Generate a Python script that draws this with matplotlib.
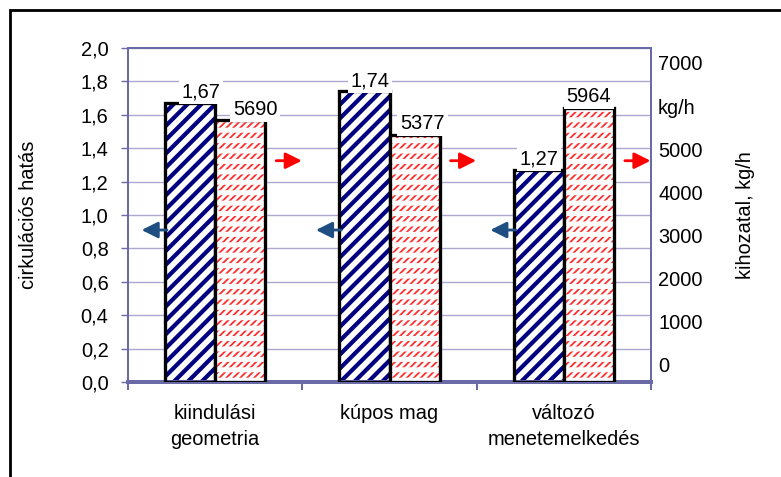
import matplotlib.pyplot as plt
import numpy as np
from matplotlib.patches import Rectangle

categories = ["kiindulási\ngeometria", "kúpos mag", "változó\nmenetemelkedés"]
circulation = [1.67, 1.74, 1.27]
throughput = [5690, 5377, 5964]
left_ticks = [0.0, 0.2, 0.4, 0.6, 0.8, 1.0, 1.2, 1.4, 1.6, 1.8, 2.0]
right_ticks = [0, 1000, 2000, 3000, 4000, 5000, 6000, 7000]
right_tick_labels = ["0", "1000", "2000", "3000", "4000", "5000", "kg/h", "7000"]

# render at 125 dpi so the hatch tiles come out at the right density;
# all sizes below are given in pixels and converted to points
DPI = 125
PX = 72 / DPI

plt.rcParams["font.family"] = ["Liberation Sans", "DejaVu Sans"]
plt.rcParams["font.size"] = 20 * PX

spine_col = "#6a6aa6"
grid_col = "#aca8d0"
navy = "#000080"
red = "#ff2e2e"

fig = plt.figure(figsize=(781 / DPI, 477 / DPI), dpi=DPI)
ax = fig.add_axes([0.1639, 0.1992, 0.6697, 0.7002])
ax2 = ax.twinx()
ax3 = ax.twinx()

x = np.arange(len(categories))
w = 0.287

# blue hatched bars (left axis)
with plt.rc_context({"hatch.linewidth": 4.2 * PX}):
    ax.bar(x - w / 2, circulation, w, facecolor="white", edgecolor=navy,
           hatch="///", linewidth=0, zorder=2)
ax.bar(x - w / 2, circulation, w, fill=False, edgecolor="black",
       linewidth=3.3 * PX, zorder=3)

# red dashed hatch bars (right axis): diagonal lines broken by white rows
with plt.rc_context({"hatch.linewidth": 1.8 * PX}):
    ax2.bar(x + w / 2, throughput, w, facecolor="white", edgecolor=red,
            hatch="//////", linewidth=0, zorder=2)
with plt.rc_context({"hatch.linewidth": 5.0 * PX}):
    ax2.bar(x + w / 2, throughput, w, facecolor="none", edgecolor="white",
            hatch="--", linewidth=0, zorder=2.5)
ax2.bar(x + w / 2, throughput, w, fill=False, edgecolor="black",
        linewidth=3.3 * PX, zorder=3)

# value labels
left_dx = [11, 5.5, 0]
right_dx = [15, 8, 0]
box = dict(facecolor="white", edgecolor="none", pad=2.8 * PX)
for xi, v, dx in zip(x, circulation, left_dx):
    ax.annotate(f"{v:.2f}".replace(".", ","), xy=(xi - w / 2, v),
                xytext=(dx * PX, 1.4 * PX), textcoords="offset points",
                ha="center", va="bottom", bbox=box, zorder=5)
for xi, v, dx in zip(x, throughput, right_dx):
    ax2.annotate(f"{v}", xy=(xi + w / 2, v), xytext=(dx * PX, 1.4 * PX),
                 textcoords="offset points", ha="center", va="bottom",
                 bbox=box, zorder=5)

# arrows pointing to the axis each series belongs to
arrow_style = dict(arrowstyle="-|>", lw=2.8 * PX, mutation_scale=34 * PX,
                   shrinkA=0, shrinkB=0)
for xi in x:
    ax.annotate("", xy=(xi - w - 0.135, 0.91), xytext=(xi - w + 0.01, 0.91),
                arrowprops=dict(color="#1f4f82", **arrow_style), zorder=4)
    ax.annotate("", xy=(xi + w + 0.21, 1.325), xytext=(xi + w + 0.063, 1.325),
                arrowprops=dict(color="red", **arrow_style), zorder=4)

# left axis
ax.set_xlim(-0.5, 2.5)
ax.set_ylim(0, 2.0)
ax.set_yticks(left_ticks)
ax.set_yticklabels([f"{t:.1f}".replace(".", ",") for t in left_ticks])
ax.yaxis.grid(True, color=grid_col, linewidth=1.4 * PX)
ax.set_axisbelow(True)
ax.tick_params(axis="y", direction="out", length=7 * PX, width=1.4 * PX,
               color=spine_col, pad=12.5 * PX)
ax.set_ylabel("cirkulációs hatás", labelpad=43 * PX)

ax.set_xticks(x)
ax.set_xticklabels(categories, linespacing=1.45)
ax.set_xticks([-0.5, 0.5, 1.5, 2.5], minor=True)
ax.tick_params(axis="x", which="major", length=0, pad=22 * PX)
ax.tick_params(axis="x", which="minor", direction="out", length=8.3 * PX,
               width=2 * PX, color=spine_col)

for side in ["left", "right", "top"]:
    ax.spines[side].set_color(spine_col)
    ax.spines[side].set_linewidth(2 * PX)
ax.spines["bottom"].set_color(spine_col)
ax.spines["bottom"].set_linewidth(4 * PX)

# right axis: bars scale and tick labels
ax2.set_ylim(0, 7260)
ax2.set_yticks([])
ax3.set_ylim(-394, 7347)
ax3.set_yticks(right_ticks)
ax3.set_yticklabels(right_tick_labels)
ax3.tick_params(axis="y", length=0, pad=7 * PX)
ax3.set_ylabel("kihozatal, kg/h", labelpad=33 * PX)
for a in (ax2, ax3):
    for s in a.spines.values():
        s.set_visible(False)

# outer frame
fig.patches.append(Rectangle((0.0128, -0.5), 2.0, 0.979 + 0.5,
                             transform=fig.transFigure, fill=False,
                             edgecolor="black", linewidth=2.8 * PX))

fig.savefig("out.png", dpi=DPI)
